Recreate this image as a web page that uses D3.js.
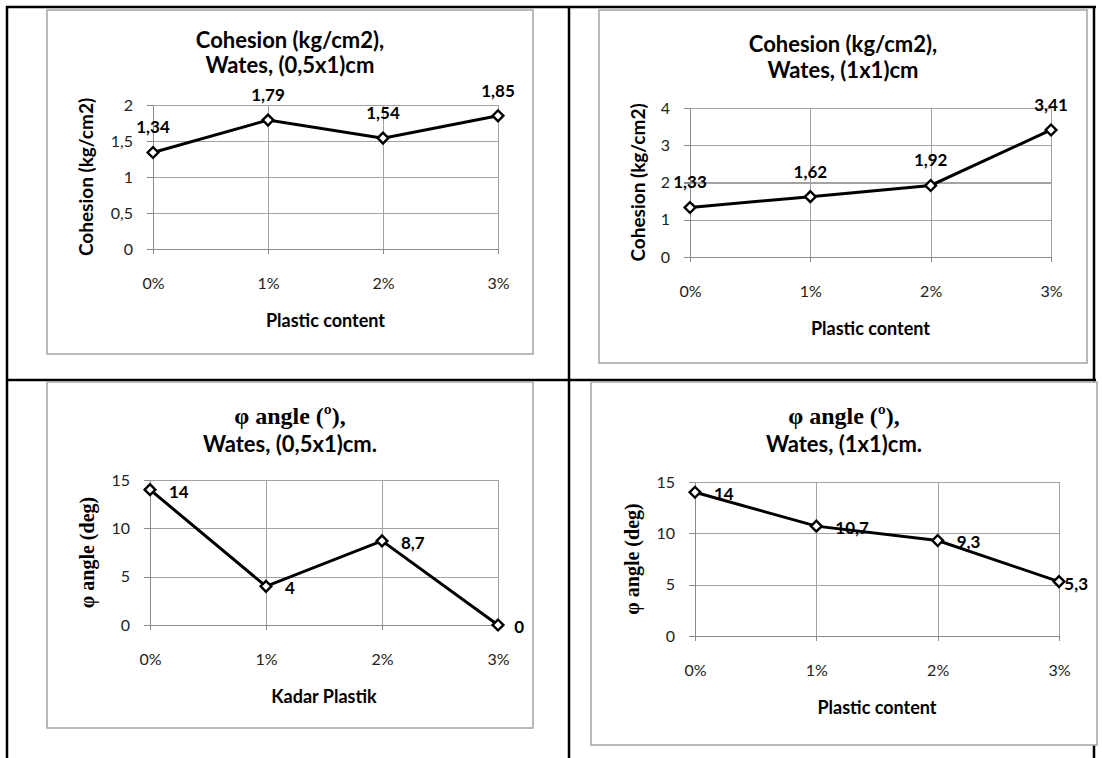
<!DOCTYPE html>
<meta charset="utf-8">
<style>
body { margin: 0; background: #fff; }
.grid line { stroke: #a3a3a3; stroke-width: 1.3px; shape-rendering: crispEdges; }
.grid path { stroke-width: 0; }
.axis path, .axis line { stroke: #8a8a8a; stroke-width: 1.3px; shape-rendering: crispEdges; }
.axis text { font-family: Lato, sans-serif; font-size: 16px; fill: #222; }
.series { fill: none; stroke: #000; stroke-width: 3px; }
.marker { fill: #fff; stroke: #000; stroke-width: 2.4px; }
.dlabel { font-family: Lato, sans-serif; font-size: 17px; font-weight: bold; fill: #000; }
.ttl { font-family: Lato, sans-serif; font-size: 22px; font-weight: bold; fill: #000; text-anchor: middle; }
.atitle { font-family: Lato, sans-serif; font-size: 18px; font-weight: bold; fill: #000; text-anchor: middle; }
text.serif { font-family: "Liberation Serif", "DejaVu Serif", serif; }
</style>
<body>
<div id="my_dataviz"></div>
<script src="https://d3js.org/d3.v7.min.js"></script>
<script>

// data
var categories = ["0%", "1%", "2%", "3%"];
var cohesionHalf = [1.34, 1.79, 1.54, 1.85];
var cohesionOne = [1.33, 1.62, 1.92, 3.41];
var phiHalf = [14, 4, 8.7, 0];
var phiOne = [14, 10.7, 9.3, 5.3];
var cohesionHalfTicks = [0, 0.5, 1, 1.5, 2];
var cohesionOneTicks = [0, 1, 2, 3, 4];
var phiTicks = [0, 5, 10, 15];

var fmt = d3.formatLocale({decimal: ",", thousands: ".", grouping: [3], currency: ["", ""]}).format("~g");

var W = 1102, H = 758;
var svg = d3.select("#my_dataviz").append("svg")
    .attr("width", W)
    .attr("height", H);

// table lines of the page layout
var tbl = svg.append("g").attr("stroke", "#000").attr("stroke-width", 2.5);
tbl.append("line").attr("x1", 6).attr("x2", 1096).attr("y1", 7).attr("y2", 7);
tbl.append("line").attr("x1", 6).attr("x2", 1096).attr("y1", 380).attr("y2", 380);
tbl.append("line").attr("x1", 7).attr("x2", 7).attr("y1", 6).attr("y2", H);
tbl.append("line").attr("x1", 569).attr("x2", 569).attr("y1", 6).attr("y2", H);
tbl.append("line").attr("x1", 1094).attr("x2", 1094).attr("y1", 6).attr("y2", H);

var charts = [
  {t1: "Cohesion (kg/cm2),", t1serif: false, t2: "Wates, (0,5x1)cm", ylab: "Cohesion (kg/cm2)", yserif: false,
   xlab: "Plastic content", values: cohesionHalf, ticks: cohesionHalfTicks, pos: "top",
   box: [47, 10, 533, 354], xr: [153, 498], yr: [249, 105], tY: [48, 73], yLabX: 86},
  {t1: "Cohesion (kg/cm2),", t1serif: false, t2: "Wates, (1x1)cm", ylab: "Cohesion (kg/cm2)", yserif: false,
   xlab: "Plastic content", values: cohesionOne, ticks: cohesionOneTicks, pos: "top",
   box: [599, 10, 1087, 363], xr: [690, 1051], yr: [257, 108], tY: [52, 78], yLabX: 638},
  {t1: "\u03c6 angle (\u00ba),", t1serif: true, t2: "Wates, (0,5x1)cm.", ylab: "\u03c6 angle (deg)", yserif: true,
   xlab: "Kadar Plastik", values: phiHalf, ticks: phiTicks, pos: "right",
   box: [47, 382, 533, 728], xr: [150, 498], yr: [625, 480], tY: [424, 452], yLabX: 87},
  {t1: "\u03c6 angle (\u00ba),", t1serif: true, t2: "Wates, (1x1)cm.", ylab: "\u03c6 angle (deg)", yserif: true,
   xlab: "Plastic content", values: phiOne, ticks: phiTicks, pos: "right",
   box: [591, 382, 1097, 745], xr: [695, 1059], yr: [636, 482], tY: [424, 452], yLabX: 632}
];

charts.forEach(function(c) {
  var g = svg.append("g");

  // chart area
  g.append("rect")
    .attr("x", c.box[0]).attr("y", c.box[1])
    .attr("width", c.box[2] - c.box[0]).attr("height", c.box[3] - c.box[1])
    .attr("fill", "#fff").attr("stroke", "#a8a8a8").attr("stroke-width", 1.6);

  var x = d3.scalePoint().domain(categories).range(c.xr);
  var y = d3.scaleLinear().domain([0, d3.max(c.ticks)]).range(c.yr);
  var pw = c.xr[1] - c.xr[0], ph = c.yr[0] - c.yr[1];

  // gridlines
  g.append("g").attr("class", "grid")
    .attr("transform", "translate(" + c.xr[0] + ",0)")
    .call(d3.axisLeft(y).tickValues(c.ticks).tickSize(-pw).tickFormat(""));
  g.append("g").attr("class", "grid")
    .attr("transform", "translate(0," + c.yr[0] + ")")
    .call(d3.axisBottom(x).tickSize(-ph).tickFormat(""));

  // axes
  g.append("g").attr("class", "axis")
    .attr("transform", "translate(" + c.xr[0] + ",0)")
    .call(d3.axisLeft(y).tickValues(c.ticks).tickSize(6).tickSizeOuter(0).tickPadding(14).tickFormat(fmt));
  g.append("g").attr("class", "axis")
    .attr("transform", "translate(0," + c.yr[0] + ")")
    .call(d3.axisBottom(x).tickSize(5).tickSizeOuter(0).tickPadding(24));

  // titles
  g.append("text").attr("class", c.t1serif ? "ttl serif" : "ttl")
    .attr("x", (c.box[0] + c.box[2]) / 2).attr("y", c.tY[0])
    .style("font-size", c.t1serif ? "24px" : null)
    .text(c.t1);
  g.append("text").attr("class", "ttl")
    .attr("x", (c.box[0] + c.box[2]) / 2).attr("y", c.tY[1])
    .text(c.t2);

  g.append("text").attr("class", c.yserif ? "atitle serif" : "atitle")
    .attr("transform", "translate(" + c.yLabX + "," + (c.yr[0] + c.yr[1]) / 2 + ") rotate(-90)")
    .attr("dy", "0.35em")
    .style("font-size", c.yserif ? "20px" : "19px")
    .text(c.ylab);

  g.append("text").attr("class", "atitle")
    .attr("x", (c.xr[0] + c.xr[1]) / 2).attr("y", c.yr[0] + 72)
    .attr("dy", "0.35em")
    .text(c.xlab);

  // series
  var line = d3.line()
    .x(function(d, i) { return x(categories[i]); })
    .y(function(d) { return y(d); });
  g.append("path").datum(c.values).attr("class", "series").attr("d", line);

  g.selectAll(".marker").data(c.values).enter().append("path")
    .attr("class", "marker")
    .attr("d", d3.symbol().type(d3.symbolSquare).size(58))
    .attr("transform", function(d, i) { return "translate(" + x(categories[i]) + "," + y(d) + ") rotate(45)"; });

  // data labels
  g.selectAll(".dlabel").data(c.values).enter().append("text")
    .attr("class", "dlabel")
    .text(function(d) { return fmt(d); })
    .each(function(d, i) {
      var t = d3.select(this), px = x(categories[i]), py = y(d);
      if (c.pos === "top") {
        t.attr("x", px).attr("y", py - 25).attr("dy", "0.35em").attr("text-anchor", "middle");
      } else {
        var w = this.getComputedTextLength();
        var lx = Math.min(px + 19, c.box[2] - 9 - w);
        t.attr("x", lx).attr("y", py + 2).attr("dy", "0.35em");
      }
    });
});

</script>
</body>
</html>
